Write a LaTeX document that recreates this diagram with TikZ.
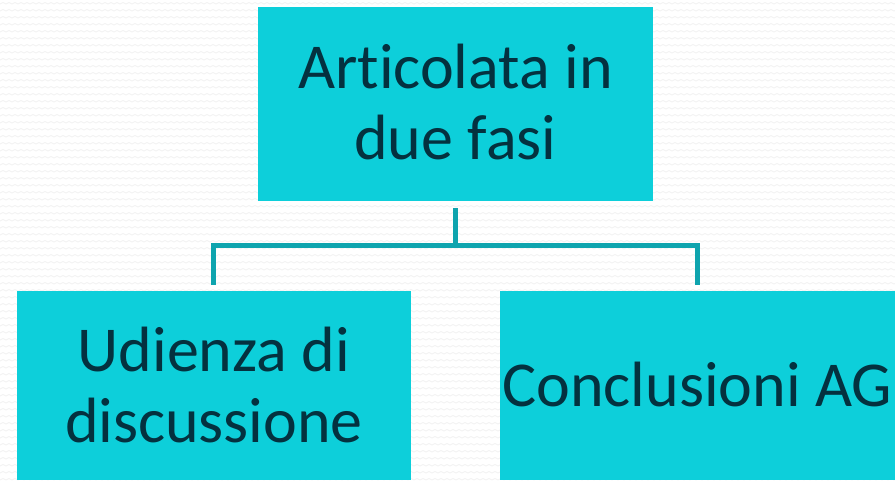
\documentclass[tikz,border=0pt]{standalone}
\usepackage{fontspec}
\setmainfont[Ligatures={NoCommon}]{Carlito}
\definecolor{boxfill}{HTML}{0DCFDA}
\definecolor{txt}{HTML}{04313F}
\definecolor{conn}{HTML}{0EA4AE}
\begin{document}
\begin{tikzpicture}[x=1pt,y=-1pt,
  box/.style={fill=boxfill,draw=none,inner sep=0pt,text=txt,align=center,
    font=\fontsize{64}{71}\selectfont},
  link/.style={draw=conn,line width=5pt}]
\useasboundingbox (0,0) rectangle (895,480);
\fill[white] (0,0) rectangle (895,480);
\foreach \y in {4,11,...,480}{
  \draw[black!5,line width=0.8pt] (0,\y) \foreach \x in {0,6,...,894}{ -- (\x+3,\y-1.5) -- (\x+6,\y)};
}
\path[box] (258,7) rectangle (653,201);
\node[box,fill=none] (top) at (455.5,102) {Articolata in\\due fasi};
\path[box] (17,291) rectangle (411,480);
\node[box,fill=none] (left) at (214,385) {Udienza di\\discussione};
\path[box] (500,291) rectangle (895,480);
\node[box,fill=none] (right) at (697.5,385) {Conclusioni AG};
\coordinate (ts) at (455.5,208);
\coordinate (ls) at (213,285);
\coordinate (rs) at (697,285);
\draw[link] (ts) -- (455.5,245) -| (ls);
\draw[link] (455.5,245) -| (rs);
\end{tikzpicture}
\end{document}
